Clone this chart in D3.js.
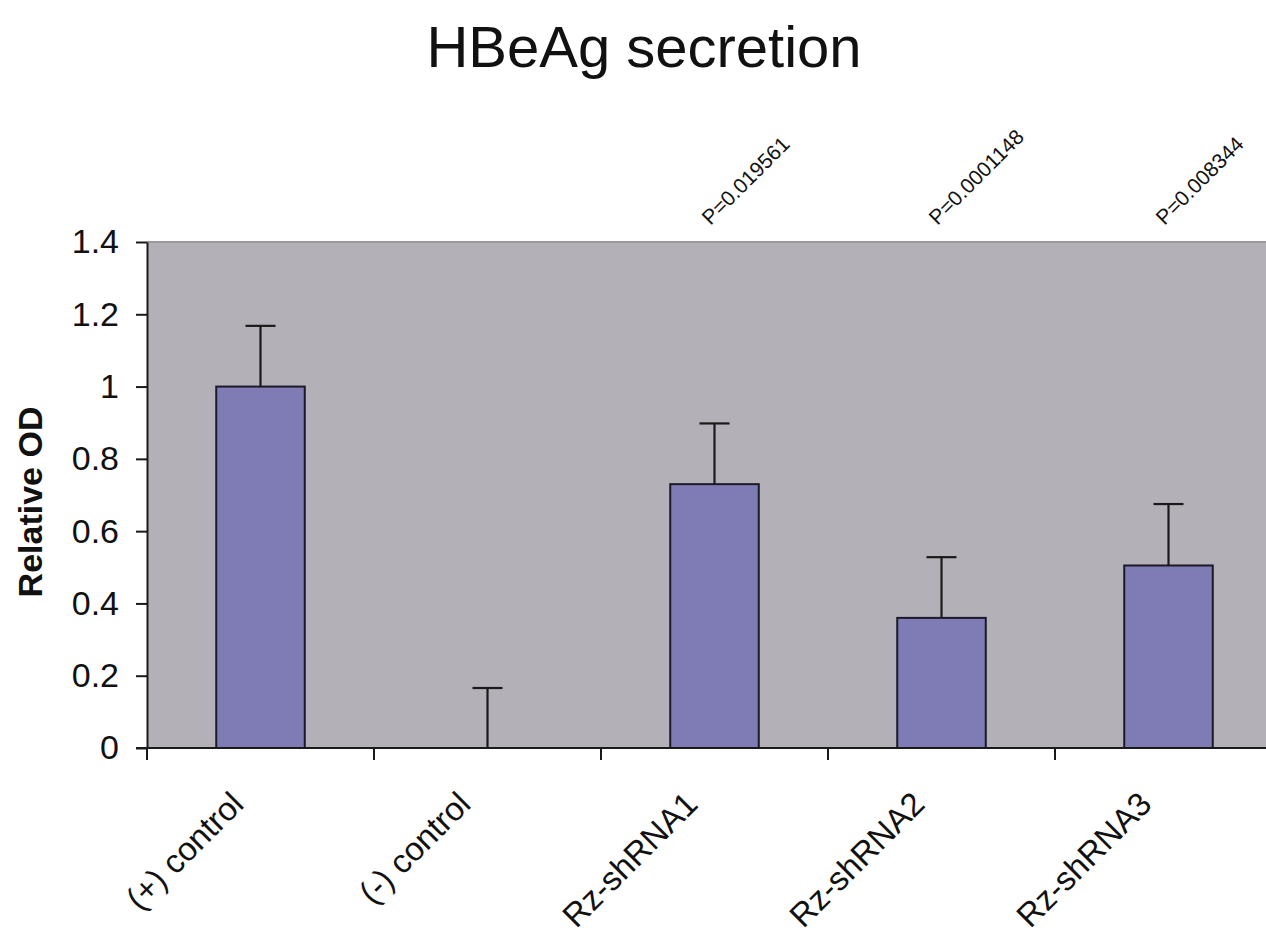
<!DOCTYPE html>
<html>
<head>
<meta charset="utf-8">
<script src="https://cdn.jsdelivr.net/npm/d3@7"></script>
<style>
  html, body { margin: 0; padding: 0; background: #ffffff; }
  svg { display: block; font-family: Arial, "Liberation Sans", sans-serif; }
</style>
</head>
<body>
<svg id="chart" width="1266" height="934"></svg>
<script>
// HBeAg secretion: relative OD per construct, with upper error bars
const categories = ["(+) control", "(-) control", "Rz-shRNA1", "Rz-shRNA2", "Rz-shRNA3"];
const values     = [1.0, 0.0, 0.73, 0.36, 0.505];
const errors     = [0.168, 0.166, 0.168, 0.168, 0.17];
const pLabels    = [null, null, "P=0.019561", "P=0.0001148", "P=0.008344"];
const yTicks     = [0, 0.2, 0.4, 0.6, 0.8, 1, 1.2, 1.4];
const yTickLabels = ["0", "0.2", "0.4", "0.6", "0.8", "1", "1.2", "1.4"];

const svg = d3.select("#chart");

const plot = { left: 147, right: 1282, top: 242, bottom: 748 };

// one band per category, bars take ~40% of each band
const x = d3.scaleBand()
  .domain(categories)
  .range([plot.left, plot.right])
  .paddingInner(0)
  .paddingOuter(0);
const center = c => x(c) + x.bandwidth() / 2;
const barW = x.bandwidth() * 0.39;

const y = d3.scaleLinear().domain([0, 1.4]).range([plot.bottom, plot.top]);

// title
svg.append("text")
  .attr("x", 644).attr("y", 67)
  .attr("text-anchor", "middle")
  .attr("font-size", 58)
  .attr("fill", "#111")
  .text("HBeAg secretion");

// plot background
svg.append("rect")
  .attr("x", plot.left).attr("y", plot.top)
  .attr("width", plot.right - plot.left).attr("height", plot.bottom - plot.top)
  .attr("fill", "#b4b0b8");

// top border of plot area
svg.append("line")
  .attr("x1", plot.left).attr("x2", plot.right)
  .attr("y1", plot.top).attr("y2", plot.top)
  .attr("stroke", "#9a989c").attr("stroke-width", 2);

// bars
svg.append("g").selectAll("rect")
  .data(categories.map((c, i) => ({ c, v: values[i] })).filter(d => d.v > 0))
  .join("rect")
  .attr("x", d => center(d.c) - barW / 2)
  .attr("y", d => y(d.v))
  .attr("width", barW)
  .attr("height", d => y(0) - y(d.v))
  .attr("fill", "#7f7cb5")
  .attr("stroke", "#1c1a28")
  .attr("stroke-width", 2);

// error bars (upper only)
const eb = svg.append("g").attr("stroke", "#1a1a1a").attr("stroke-width", 2.2);
categories.forEach((c, i) => {
  const cx = center(c);
  const top = y(values[i] + errors[i]);
  eb.append("line")
    .attr("x1", cx).attr("x2", cx)
    .attr("y1", y(values[i])).attr("y2", top);
  eb.append("line")
    .attr("x1", cx - 15).attr("x2", cx + 15)
    .attr("y1", top).attr("y2", top);
});

// y axis
const yAxis = d3.axisLeft(y)
  .tickValues(yTicks)
  .tickFormat((d, i) => yTickLabels[i])
  .tickSize(11)
  .tickPadding(17)
  .tickSizeOuter(0);
const gy = svg.append("g").attr("transform", `translate(${plot.left},0)`).call(yAxis);
gy.select(".domain").attr("stroke", "#1a1a1a").attr("stroke-width", 2);
gy.selectAll(".tick line").attr("stroke", "#1a1a1a").attr("stroke-width", 2);
gy.selectAll(".tick text")
  .attr("font-size", 34)
  .attr("font-family", "Arial, 'Liberation Sans', sans-serif")
  .attr("fill", "#111");

// x axis line and category boundary ticks
svg.append("line")
  .attr("x1", plot.left - 11).attr("x2", plot.right)
  .attr("y1", plot.bottom).attr("y2", plot.bottom)
  .attr("stroke", "#1a1a1a").attr("stroke-width", 2);
const bounds = categories.map(c => x(c)).concat([plot.right]);
svg.append("g").selectAll("line")
  .data(bounds)
  .join("line")
  .attr("x1", d => d).attr("x2", d => d)
  .attr("y1", plot.bottom).attr("y2", plot.bottom + 12)
  .attr("stroke", "#1a1a1a").attr("stroke-width", 2);

// category labels
svg.append("g").selectAll("text")
  .data(categories)
  .join("text")
  .attr("transform", d => `translate(${center(d) - 15},806) rotate(-45)`)
  .attr("text-anchor", "end")
  .attr("font-size", 33)
  .attr("fill", "#111")
  .text(d => d);

// p-value annotations
svg.append("g").selectAll("text")
  .data(categories.map((c, i) => ({ c, p: pLabels[i] })).filter(d => d.p))
  .join("text")
  .attr("transform", d => `translate(${center(d.c) - 4},226) rotate(-45)`)
  .attr("font-size", 21)
  .attr("fill", "#111")
  .text(d => d.p);

// y axis title
svg.append("text")
  .attr("transform", "translate(42,502) rotate(-90)")
  .attr("text-anchor", "middle")
  .attr("font-size", 34)
  .attr("font-weight", "bold")
  .attr("fill", "#111")
  .text("Relative OD");
</script>
</body>
</html>
